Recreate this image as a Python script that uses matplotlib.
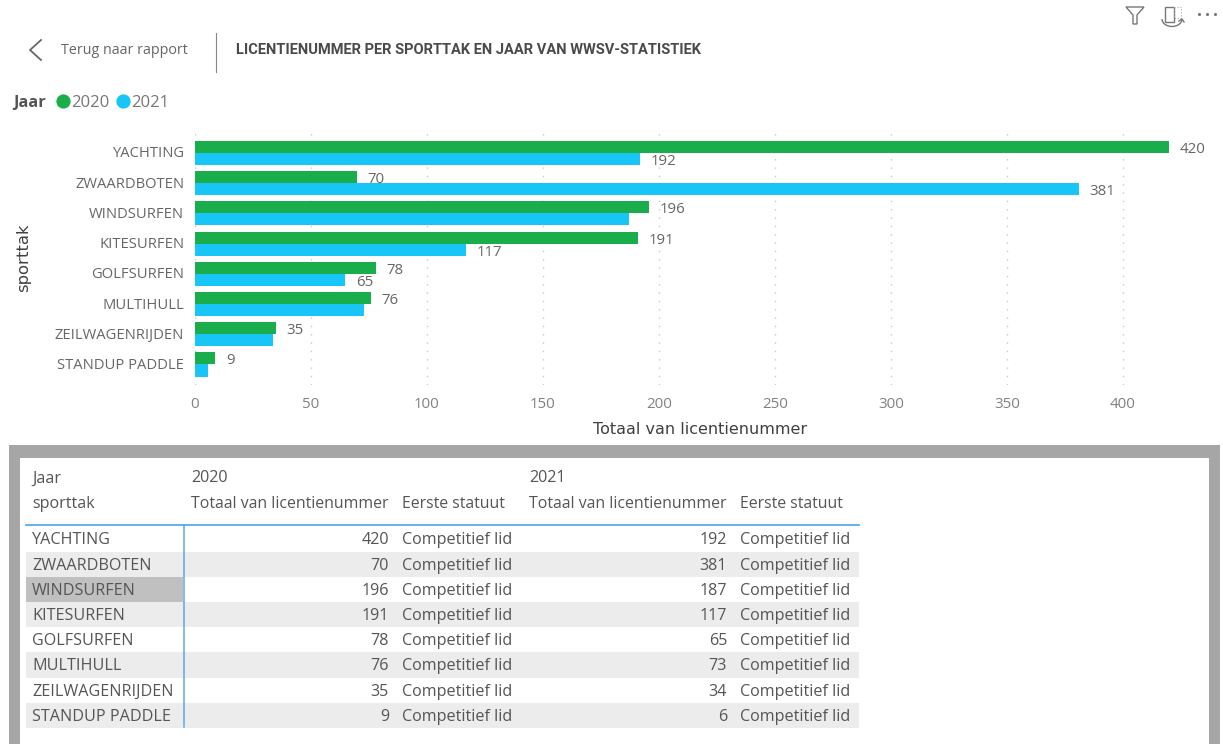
import matplotlib
matplotlib.use("Agg")
import numpy as np
import matplotlib.pyplot as plt
from matplotlib.patches import Rectangle, Polygon, Arc
from matplotlib.transforms import ScaledTranslation

# ===== data =====
sports = ["YACHTING", "ZWAARDBOTEN", "WINDSURFEN", "KITESURFEN",
          "GOLFSURFEN", "MULTIHULL", "ZEILWAGENRIJDEN", "STANDUP PADDLE"]
totals_2020 = [420, 70, 196, 191, 78, 76, 35, 9]
totals_2021 = [192, 381, 187, 117, 65, 73, 34, 6]
# the report only shows some labels on the 2021 bars
shown_2021 = [True, True, False, True, True, False, False, False]
statuut = "Competitief lid"
x_ticks = [0, 50, 100, 150, 200, 250, 300, 350, 400]

GREEN = "#1aad4b"
BLUE = "#17c6f7"
GREY_TXT = "#666666"
TBL_TXT = "#555555"
W, H = 1223, 744

plt.rcParams["font.family"] = ["Open Sans", "DejaVu Sans"]

fig = plt.figure(figsize=(W / 100, H / 100), dpi=100, facecolor="white")

# overlay in pixel coordinates for the report chrome and the table
bg = fig.add_axes([0, 0, 1, 1], zorder=0)
bg.set_xlim(0, W)
bg.set_ylim(H, 0)
bg.axis("off")

# ===== bar chart =====
px_left, px_right, px_top, px_bottom = 194.5, 1181, 133, 385
ax = fig.add_axes([px_left / W, 1 - px_bottom / H,
                   (px_right - px_left) / W, (px_bottom - px_top) / H], zorder=2)
ax.patch.set_alpha(0)
y = np.arange(len(sports))
bar_h = 0.4
ax.barh(y - bar_h / 2, totals_2020, bar_h, color=GREEN, zorder=3)
ax.barh(y + bar_h / 2, totals_2021, bar_h, color=BLUE, zorder=3)
ax.set_xlim(0, 425)
ax.set_ylim(7.68, -0.66)
ax.set_yticks(y, sports)
ax.set_xticks(x_ticks)
ax.tick_params(length=0)
ax.tick_params(axis="y", labelsize=10.6, labelcolor=GREY_TXT, pad=7.5)
ax.tick_params(axis="x", labelsize=10.8, labelcolor="#808080", pad=8.5)
lift = ScaledTranslation(0, 1 / 100, fig.dpi_scale_trans)
for lab in ax.get_yticklabels():
    lab.set_transform(lab.get_transform() + lift)
ax.grid(axis="x", color="#c8c8c8", linestyle=(0, (1, 5)), linewidth=1, zorder=1)
ax.set_axisbelow(True)
for s in ax.spines.values():
    s.set_visible(False)

for i, v in enumerate(totals_2020):
    ax.annotate(str(v), (v, i - bar_h / 2), xytext=(7.5, -1.8), textcoords="offset points",
                va="center", fontsize=10.8, color=GREY_TXT, zorder=4)
for i, v in enumerate(totals_2021):
    if shown_2021[i]:
        ax.annotate(str(v), (v, i + bar_h / 2), xytext=(7.5, -1.8), textcoords="offset points",
                    va="center", fontsize=10.8, color=GREY_TXT, zorder=4)

bg.text(700, 429, "Totaal van licentienummer", ha="center", va="center",
        fontsize=11.5, color="#404040", family="DejaVu Sans")
bg.text(24, 258, "sporttak", ha="center", va="center", rotation=90,
        fontsize=11.8, color="#404040", family="DejaVu Sans")

# ===== header =====
bg.plot([41, 30, 41], [40, 50, 60], color="#666666", lw=1.3)
bg.text(61, 51, "Terug naar rapport", va="center", fontsize=10.3, color=GREY_TXT)
bg.plot([215.5, 215.5], [33, 72], color="#888888", lw=0.8)
bg.text(236, 50, "LICENTIENUMMER PER SPORTTAK EN JAAR VAN WWSV-STATISTIEK",
        va="center", fontsize=10.5, fontweight="bold", color="#4a4a4a", family="Roboto")

# legend
bg.text(13, 103, "Jaar", va="center", fontsize=11.8, fontweight="bold", color="#555555")
bg.scatter([63], [101], s=105, color=GREEN, linewidths=0)
bg.text(71, 103, "2020", va="center", fontsize=12, color="#777777")
bg.scatter([123], [101], s=105, color=BLUE, linewidths=0)
bg.text(131, 103, "2021", va="center", fontsize=12, color="#777777")

# toolbar icons
bg.add_patch(Polygon([[1126, 7], [1144, 7], [1137, 15], [1137, 24], [1133, 24], [1133, 15]],
                     closed=True, fill=False, ec="#777777", lw=1))
bg.add_patch(Rectangle((1165, 7), 9, 15, fill=False, ec="#777777", lw=1))
bg.add_patch(Rectangle((1174, 7), 7, 11, fill=False, ec="#aaaaaa", lw=0.8, ls=":"))
bg.add_patch(Arc((1172, 19), 20, 15, theta1=0, theta2=180, ec="#777777", lw=1))
bg.plot([1179, 1182, 1184], [21, 19, 22], color="#777777", lw=1)
bg.scatter([1199, 1207, 1215], [14, 14, 14], s=5, color="#777777", linewidths=0)

# ===== table =====
bg.add_patch(Rectangle((9, 445), 1211, H - 445, fc="#a6a6a6", ec="none", zorder=0))
bg.add_patch(Rectangle((20, 458), 1189, H - 458, fc="white", ec="none", zorder=0.1))

row_y = [539 + 25.2 * i for i in range(len(sports))]
row_h = 25.2
for i, ry in enumerate(row_y):
    if i % 2 == 1:
        bg.add_patch(Rectangle((26, ry - row_h / 2), 833, row_h, fc="#ececec", ec="none", zorder=0.2))
bg.add_patch(Rectangle((26, row_y[2] - row_h / 2), 157, row_h, fc="#c0c0c0", ec="none", zorder=0.3))
bg.plot([26, 859], [525, 525], color="#5aa9ee", lw=1.3, zorder=0.4)
bg.plot([183.5, 183.5], [525, 727], color="#5aa9ee", lw=1.1, zorder=0.4)

fs = 11.6
dy = 1.5
bg.text(32, 477 + dy, "Jaar", va="center", fontsize=fs, color=TBL_TXT)
bg.text(32, 503 + dy, "sporttak", va="center", fontsize=fs, color=TBL_TXT)
for year, x0 in (("2020", 191), ("2021", 529)):
    bg.text(x0, 477 + dy, year, va="center", fontsize=fs, color=TBL_TXT)
    bg.text(x0, 503 + dy, "Totaal van licentienummer", va="center", fontsize=11.4, color=TBL_TXT)
    bg.text(x0 + 211, 503 + dy, "Eerste statuut", va="center", fontsize=11.4, color=TBL_TXT)

for i, ry in enumerate(row_y):
    bg.text(32, ry + dy, sports[i], va="center", fontsize=fs, color=TBL_TXT)
    bg.text(389, ry + dy, str(totals_2020[i]), va="center", ha="right", fontsize=fs, color=TBL_TXT)
    bg.text(402, ry + dy, statuut, va="center", fontsize=fs, color=TBL_TXT)
    bg.text(727, ry + dy, str(totals_2021[i]), va="center", ha="right", fontsize=fs, color=TBL_TXT)
    bg.text(740, ry + dy, statuut, va="center", fontsize=fs, color=TBL_TXT)

fig.savefig("out.png", dpi=100)
